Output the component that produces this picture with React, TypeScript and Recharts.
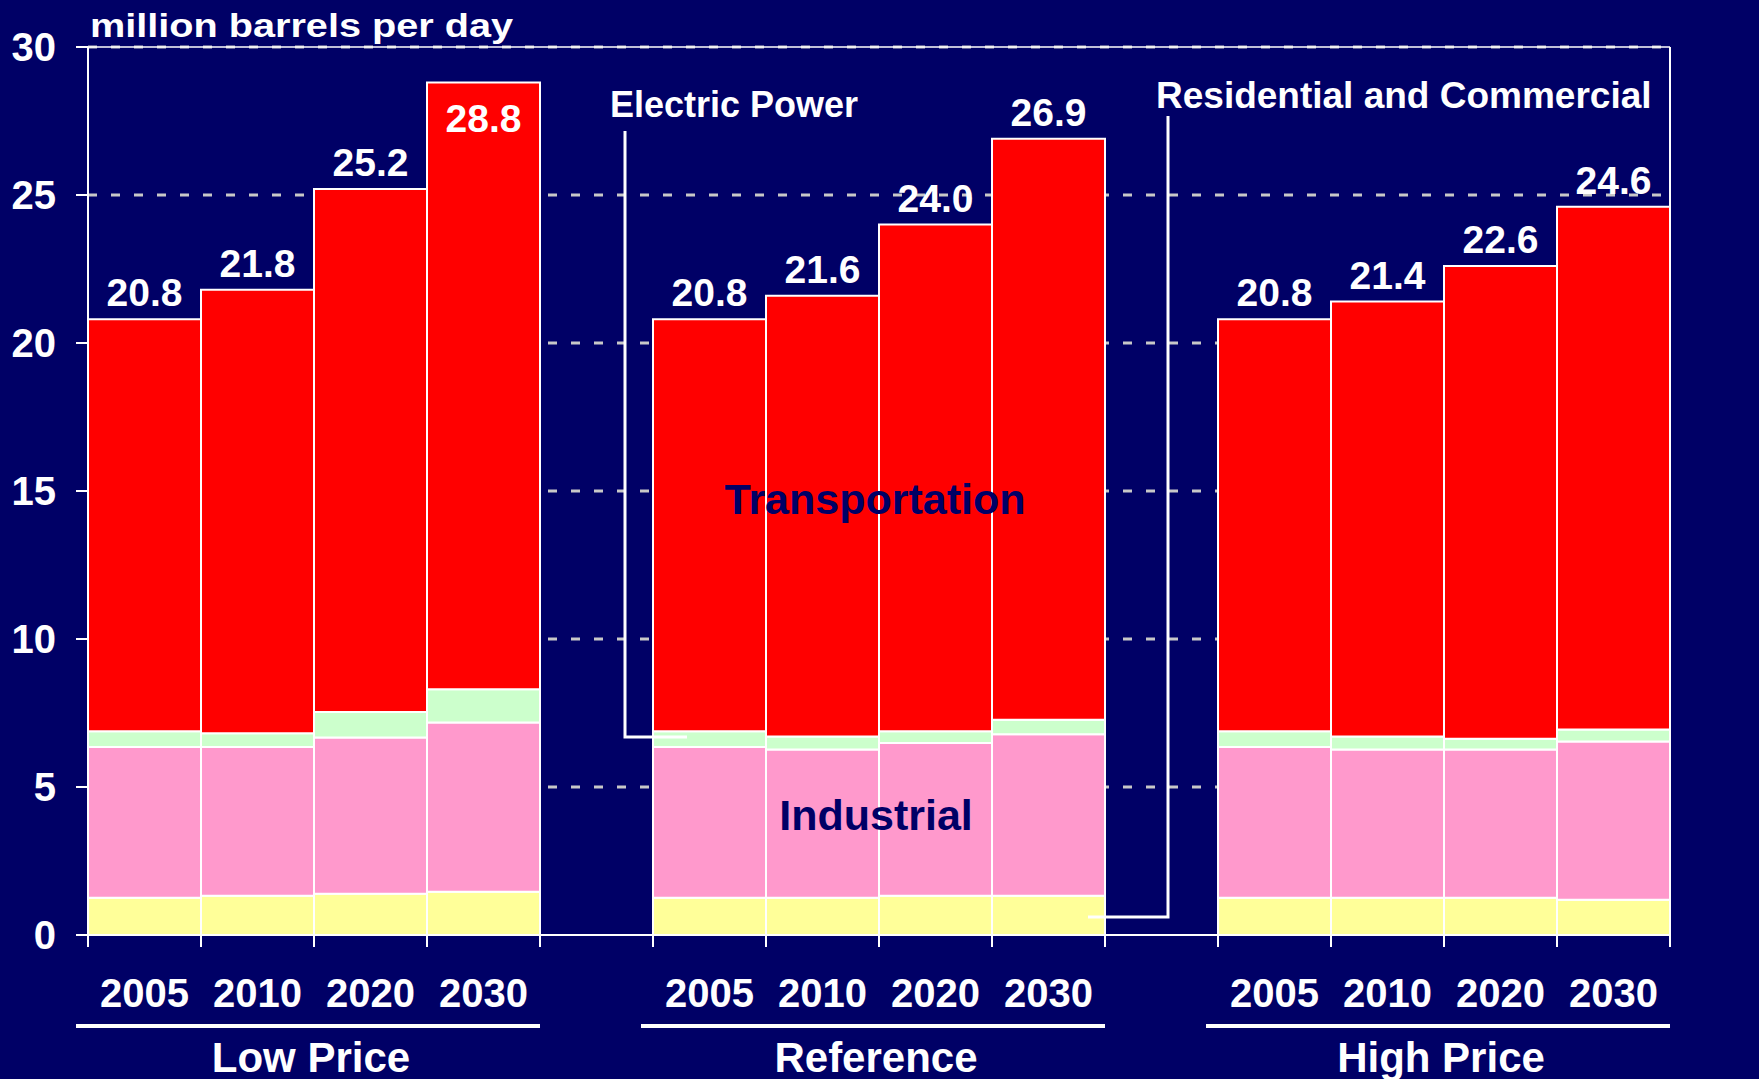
import { BarChart, Bar, XAxis, YAxis, CartesianGrid, ReferenceLine, LabelList } from 'recharts'

const FONT = '"Liberation Sans", Arial, Helvetica, sans-serif'
const NAVY = '#000066'

const CASES = ['Low Price', 'Reference', 'High Price']
const YEARS = ['2005', '2010', '2020', '2030']

// million barrels per day, one row per price case, one value per year
const RES_COM = [
  [1.26, 1.33, 1.39, 1.46],
  [1.26, 1.26, 1.33, 1.33],
  [1.26, 1.26, 1.26, 1.19],
]
const INDUSTRIAL = [
  [5.09, 5.02, 5.28, 5.72],
  [5.09, 5.01, 5.16, 5.45],
  [5.09, 5.01, 5.01, 5.35],
]
const ELECTRIC = [
  [0.53, 0.47, 0.86, 1.12],
  [0.53, 0.44, 0.39, 0.49],
  [0.53, 0.44, 0.36, 0.4],
]
const TRANSPORT = [
  [13.92, 14.98, 17.67, 20.5],
  [13.92, 14.89, 17.12, 19.63],
  [13.92, 14.69, 15.97, 17.66],
]
const TOTALS = [
  [20.8, 21.8, 25.2, 28.8],
  [20.8, 21.6, 24.0, 26.9],
  [20.8, 21.4, 22.6, 24.6],
]
const Y_TICKS = [0, 5, 10, 15, 20, 25, 30]

// one empty slot between the cases
const ROWS = CASES.flatMap((c, ci) => {
  const bars = YEARS.map((year, yi) => ({
    key: `${c} ${year}`,
    year,
    group: c,
    pos: yi,
    resCom: RES_COM[ci][yi],
    industrial: INDUSTRIAL[ci][yi],
    electric: ELECTRIC[ci][yi],
    transport: TRANSPORT[ci][yi],
    total: TOTALS[ci][yi],
  }))
  return ci < CASES.length - 1 ? [...bars, { key: `gap-${ci}`, year: '', group: '', pos: -1 }] : bars
})

const W = 1759
const H = 1079
const LEFT_W = 88
const RIGHT_W = 89
const TOP = 47
const X_AXIS_H = 144
const BAND = (W - LEFT_W - RIGHT_W) / ROWS.length

function YearTick(props: any) {
  const { x, y, index } = props
  const row: any = ROWS[index]
  if (!row || row.pos < 0) return null
  const l = x - BAND / 2
  const r = x + BAND / 2
  const center = r
  return (
    <g>
      <line x1={l} x2={l} y1={y} y2={y + 12} stroke="#fff" strokeWidth={2} />
      <line x1={r} x2={r} y1={y} y2={y + 12} stroke="#fff" strokeWidth={2} />
      <text x={x} y={y + 72} textAnchor="middle" fill="#fff" fontSize={40} fontWeight={700} fontFamily={FONT}>
        {row.year}
      </text>
      {row.pos === 1 && (
        <g>
          <line x1={center - 2 * BAND - 12} x2={center + 2 * BAND} y1={y + 91} y2={y + 91} stroke="#fff" strokeWidth={4} />
          <text x={center - 3} y={y + 137} textAnchor="middle" fill="#fff" fontSize={42} fontWeight={700} fontFamily={FONT}>
            {row.group}
          </text>
        </g>
      )}
    </g>
  )
}

function TotalLabel(props: any) {
  const { x, y, width, value } = props
  if (value == null) return null
  const inside = value > 28
  return (
    <text
      x={x + width / 2}
      y={inside ? y + 49 : y - 13}
      textAnchor="middle"
      fill="#fff"
      fontSize={39}
      fontWeight={700}
      fontFamily={FONT}
    >
      {Number(value).toFixed(1)}
    </text>
  )
}

const tickStyle = { fill: '#fff', fontSize: 40, fontWeight: 700, fontFamily: FONT }
const white = { stroke: '#fff', strokeWidth: 2 }

export default function App() {
  return (
    <div style={{ position: 'fixed', left: 0, top: 0, width: W, height: H, background: NAVY, overflow: 'hidden' }}>
      <BarChart
        width={W}
        height={H}
        data={ROWS}
        margin={{ top: TOP, right: 0, bottom: 0, left: 0 }}
        barCategoryGap={0}
        barGap={0}
      >
        <CartesianGrid
          yAxisId="left"
          vertical={false}
          horizontalValues={[5, 10, 15, 20, 25, 30]}
          stroke="#c8c8c8"
          strokeWidth={3}
          strokeDasharray="9 14"
        />
        <XAxis
          dataKey="key"
          interval={0}
          height={X_AXIS_H}
          tickLine={false}
          tickSize={0}
          tickMargin={0}
          axisLine={white}
          tick={(p: any) => <YearTick {...p} />}
        />
        <YAxis
          yAxisId="left"
          domain={[0, 30]}
          ticks={Y_TICKS}
          width={LEFT_W}
          tickSize={12}
          tickMargin={20}
          tickLine={white}
          axisLine={white}
          tick={tickStyle}
        />
        <YAxis
          yAxisId="right"
          orientation="right"
          domain={[0, 30]}
          ticks={Y_TICKS}
          width={RIGHT_W}
          tickSize={12}
          tickMargin={18}
          tickLine={white}
          axisLine={white}
          tick={{ ...tickStyle, textAnchor: 'start' }}
        />
        <ReferenceLine yAxisId="left" y={30} stroke="#fff" strokeWidth={1.5} />
        <Bar yAxisId="left" dataKey="resCom" stackId="s" fill="#FFFF99" stroke="#fff" strokeWidth={2} isAnimationActive={false} />
        <Bar yAxisId="left" dataKey="industrial" stackId="s" fill="#FF99CC" stroke="#fff" strokeWidth={2} isAnimationActive={false} />
        <Bar yAxisId="left" dataKey="electric" stackId="s" fill="#CCFFCC" stroke="#fff" strokeWidth={2} isAnimationActive={false} />
        <Bar yAxisId="left" dataKey="transport" stackId="s" fill="#FF0000" stroke="#fff" strokeWidth={2} isAnimationActive={false}>
          <LabelList dataKey="total" content={(p: any) => <TotalLabel {...p} />} />
        </Bar>
      </BarChart>

      <svg width={W} height={H} style={{ position: 'absolute', left: 0, top: 0, pointerEvents: 'none' }}>
        <text x={90} y={37} fill="#fff" fontSize={34} fontWeight={700} fontFamily={FONT} textLength={423} lengthAdjust="spacingAndGlyphs">
          million barrels per day
        </text>
        <text x={610} y={117} fill="#fff" fontSize={36} fontWeight={700} fontFamily={FONT}>
          Electric Power
        </text>
        <polyline points="625,131 625,737 687,737" fill="none" stroke="#fff" strokeWidth={3} />
        <text x={1156} y={108} fill="#fff" fontSize={37} fontWeight={700} fontFamily={FONT}>
          Residential and Commercial
        </text>
        <polyline points="1168,116 1168,917 1088,917" fill="none" stroke="#fff" strokeWidth={3} />
        <text x={875} y={514} textAnchor="middle" fill={NAVY} fontSize={43} fontWeight={700} fontFamily={FONT}>
          Transportation
        </text>
        <text x={876} y={830} textAnchor="middle" fill={NAVY} fontSize={43} fontWeight={700} fontFamily={FONT}>
          Industrial
        </text>
      </svg>
    </div>
  )
}
